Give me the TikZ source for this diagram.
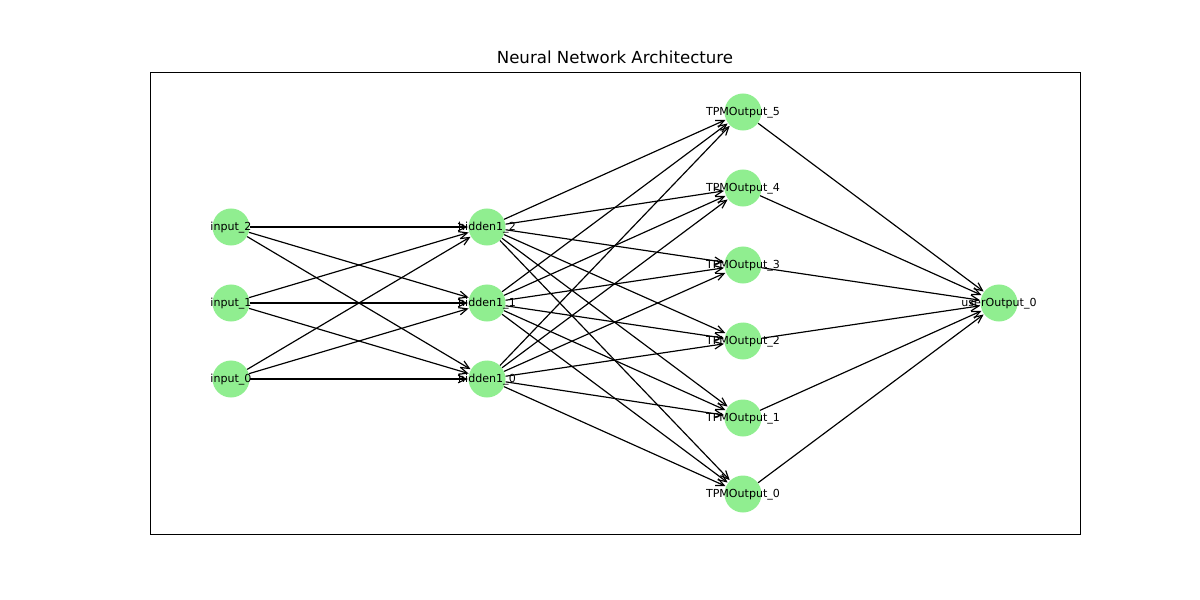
\documentclass[tikz,border=0pt]{standalone}
\usepackage{fontspec}
\setmainfont{DejaVu Sans}
\usetikzlibrary{arrows.meta}
\definecolor{nodegreen}{HTML}{90EE90}
\tikzset{
    nn diagram/.style = {x=0.254mm, y=-0.254mm, >={Straight Barb[length=2.1mm, width=1.9mm]}},
    neuron/.style     = {circle, fill=nodegreen, draw=none, inner sep=0pt,
                         minimum size=9.4mm},
    conn/.style       = {->, line width=0.85pt, shorten >=0.3pt},
    tag/.style        = {font=\fontsize{8}{9}\selectfont, inner sep=0pt,
                         anchor=base, yshift=-1mm},
    frame/.style      = {draw, line width=0.8pt}
}
\begin{document}
\begin{tikzpicture}[nn diagram]
\useasboundingbox (0,0) rectangle (1200,600);

% Axes frame and title
\node[frame, minimum width=236.2mm, minimum height=117.35mm, inner sep=0pt,
      anchor=north west] (box) at (150,72) {};
\node[font=\fontsize{12}{14}\selectfont, anchor=base] (title) at (615,64)
    {Neural Network Architecture};

% Layers of neurons
\foreach \i/\y in {0/379, 1/303, 2/227}
    \node[neuron] (in\i) at (231,\y) {};
\foreach \i/\y in {0/379, 1/303, 2/227}
    \node[neuron] (hid\i) at (487,\y) {};
\foreach \i/\y in {0/494, 1/418, 2/341, 3/265, 4/188, 5/112}
    \node[neuron] (tpm\i) at (743,\y) {};
\node[neuron] (usr0) at (999,303) {};

% Connections
\foreach \a in {0,1,2}
    \foreach \b in {0,1,2}
        \draw[conn] (in\a) -- (hid\b);
\foreach \a in {0,1,2}
    \foreach \b in {0,...,5}
        \draw[conn] (hid\a) -- (tpm\b);
\foreach \b in {0,...,5}
    \draw[conn] (tpm\b) -- (usr0);

% Labels on top
\foreach \i in {0,1,2} {
    \node[tag] (in\i-t) at (in\i) {input\_\i};
    \node[tag] (hid\i-t) at (hid\i) {hidden1\_\i};
}
\foreach \i in {0,...,5}
    \node[tag] (tpm\i-t) at (tpm\i) {TPMOutput\_\i};
\node[tag] (usr0-t) at (usr0) {userOutput\_0};

\end{tikzpicture}
\end{document}
